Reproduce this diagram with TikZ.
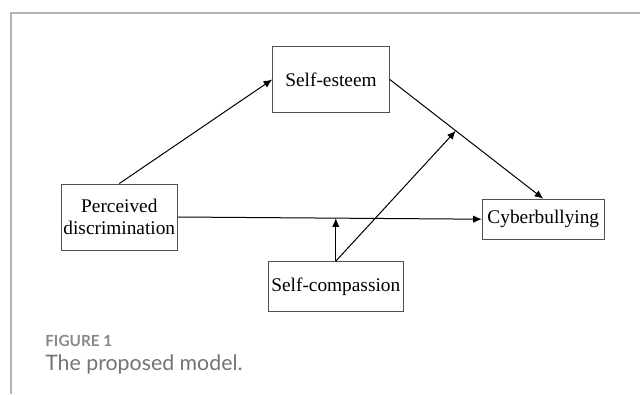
\documentclass[tikz,border=0pt]{standalone}
\usepackage{fontspec}
\setmainfont{Liberation Serif}
\newfontfamily\capfont{Lato}
\usetikzlibrary{arrows.meta}
\definecolor{framegray}{HTML}{B4B4B4}
\definecolor{capgray}{HTML}{737373}
\definecolor{boxgray}{HTML}{505050}
\begin{document}
\begin{tikzpicture}[x=0.75pt,y=-0.75pt,
		box/.style={draw=boxgray,line width=0.7pt,align=center,inner sep=0pt,font=\fontsize{14.5}{17}\selectfont},
		path/.style={-{Latex[length=6.5pt,width=5.5pt]},line width=0.75pt}]
		\useasboundingbox (0,0) rectangle (640,394);
		\draw[framegray,line width=1.3pt] (11,394) -- (11,13) -- (640,13);
		\node[box,minimum width=87.5pt,minimum height=49.5pt] (pd) at (119.3,217) {Perceived\\discrimination};
		\node[box,minimum width=87.5pt,minimum height=49pt] (se) at (331,79.5) {Self-esteem};
		\node[box,minimum width=91.5pt,minimum height=30pt] (cb) at (543.3,219.2) {Cyberbullying};
		\node[box,minimum width=101pt,minimum height=37pt] (sc) at (335.8,286.3) {Self-compassion};
		\draw[path] (pd.north) -- (se.west);
		\draw[path] (se.east) -- coordinate[pos=0.43](m2) (cb.north);
		\draw[path] (pd.east) -- coordinate[pos=0.52](m1) (cb.west);
		\draw[path] (sc.north) -- (sc.north |- m1);
		\draw[path] (sc.north) -- (m2);
		\node[anchor=base west,inner sep=0pt,text=capgray!85,font=\capfont\bfseries\fontsize{11.5}{13}\selectfont] (fig) at (45,346) {FIGURE 1};
		\node[anchor=base west,inner sep=0pt,text=capgray,font=\capfont\fontsize{16}{18}\selectfont] (cap) at (45,370) {The proposed model.};
\end{tikzpicture}
\end{document}
